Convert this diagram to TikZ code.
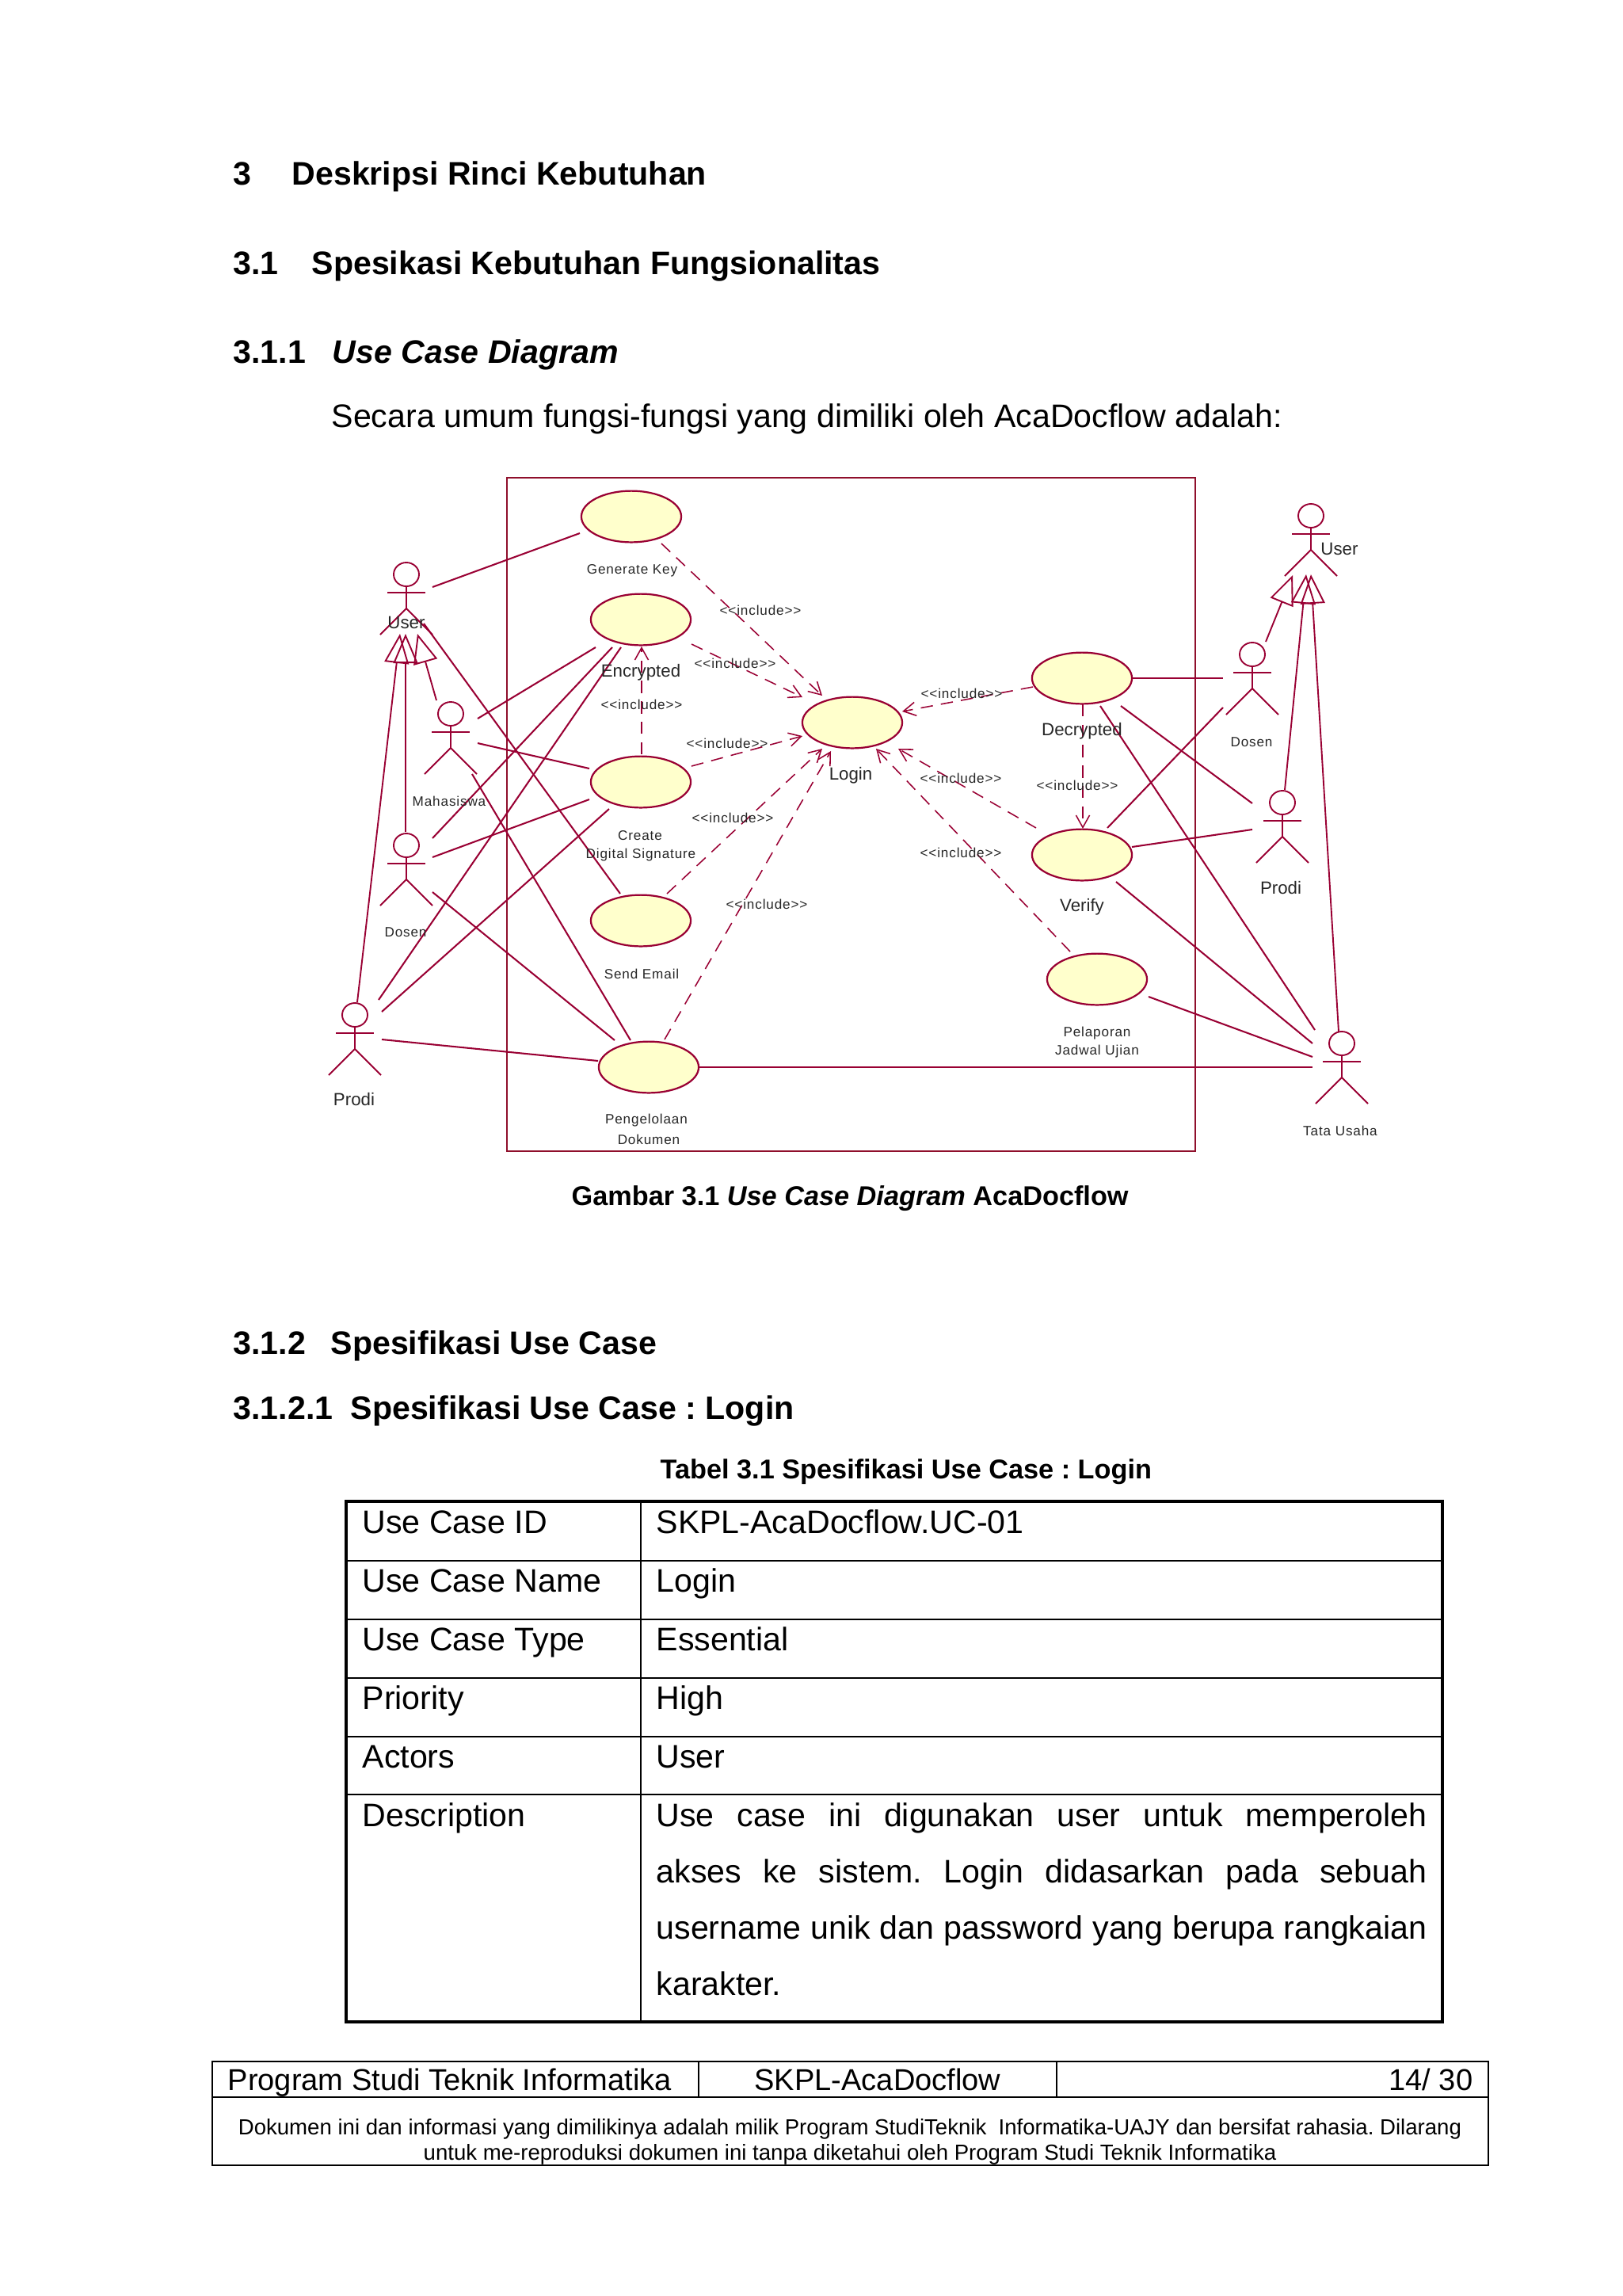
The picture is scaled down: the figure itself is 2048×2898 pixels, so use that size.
\documentclass[tikz,border=0pt]{standalone}
\usepackage{fontspec}
\setmainfont{Liberation Sans}
\newfontfamily\umlspaced[LetterSpace=5]{Liberation Sans}
\usetikzlibrary{positioning,arrows.meta,shapes.geometric}
\definecolor{umlline}{HTML}{990033}
\definecolor{umlbox}{HTML}{8F0F2B}
\definecolor{umlfill}{HTML}{FFFFCC}
\newcommand{\incl}{{<}{<}include{>}{>}}
\frenchspacing
\tikzset{
  usecase/.style={ellipse,draw=umlline,fill=umlfill,line width=.65pt,minimum width=36.8pt,minimum height=18.9pt,inner sep=0},
  assoc/.style={draw=umlline,line width=.6pt},
  incdep/.style={draw=umlline,line width=.45pt,dash pattern=on 4.5pt off 3pt,-{Straight Barb[length=4.5pt,width=5pt]}},
  gendep/.style={draw=umlline,line width=.55pt,-{Triangle[open,length=10.8pt,width=9pt]}},
  smalltxt/.style={inner sep=0,text=black!85,font=\umlspaced\fontsize{5}{6}\selectfont},
  bigtxt/.style={inner sep=0,text=black!85,font=\fontsize{6.5}{8}\selectfont},
  headtxt/.style={inner sep=0,anchor=base west,font=\fontsize{12}{14}\selectfont\bfseries},
  bodytxt/.style={inner sep=0,anchor=base west,font=\fontsize{12}{14}\selectfont},
  captxt/.style={inner sep=0,anchor=base west,font=\fontsize{10}{12}\selectfont\bfseries},
  foottxt/.style={inner sep=0,font=\fontsize{11.1}{13}\selectfont},
  notetxt/.style={inner sep=0,anchor=base,font=\fontsize{8.05}{9}\selectfont},
  stick/.pic={
    \draw[umlline,line width=.55pt] (0,0) ellipse (16 and 15);
    \draw[umlline,line width=.55pt] (0,15) -- (0,43);
    \draw[umlline,line width=.55pt] (-24,23) -- (24,23);
    \draw[umlline,line width=.55pt] (-33,76) -- (0,43) -- (33,76);
  }
}
\begin{document}
\begin{tikzpicture}[x=0.01025cm,y=-0.01025cm]
  \useasboundingbox (0,0) rectangle (2048,2898);

  \node[headtxt] (numA) at (294,233) {3};
  \node[headtxt] (headA) at (368,233) {Deskripsi Rinci Kebutuhan};
  \node[headtxt] (numB) at (294,346) {3.1};
  \node[headtxt] (headB) at (393,346) {Spesikasi Kebutuhan Fungsionalitas};
  \node[headtxt] (numC) at (294,458) {3.1.1};
  \node[headtxt] (headC) at (419,458) {\itshape Use Case Diagram};
  \node[bodytxt] (introTxt) at (418,539) {Secara umum fungsi-fungsi yang dimiliki oleh AcaDocflow adalah:};

  \draw[umlbox,line width=.7pt] (640,603) rectangle (1509,1453);

  \node[usecase] (genkey) at (797,652) {};
  \node[usecase] (encr) at (809,782) {};
  \node[usecase] (crea) at (809,987) {};
  \node[usecase] (send) at (809,1162) {};
  \node[usecase] (peng) at (819,1347) {};
  \node[usecase] (login) at (1076,912) {};
  \node[usecase] (decr) at (1366,856) {};
  \node[usecase] (veri) at (1366,1079) {};
  \node[usecase] (pelap) at (1385,1236) {};

  \coordinate (usrL) at (513,725);
  \coordinate (mhs) at (569,901);
  \coordinate (dosL) at (513,1067);
  \coordinate (proL) at (448,1281);
  \coordinate (usrR) at (1655,651);
  \coordinate (dosR) at (1581,826);
  \coordinate (proR) at (1619,1013);
  \coordinate (tata) at (1694,1317);
  \foreach \who in {usrL,mhs,dosL,proL,usrR,dosR,proR,tata}
    \pic at (\who) {stick};

  \draw[assoc] ([shift={(33,16)}]usrL) -- ([shift={(-65,21)}]genkey.center);
  \draw[assoc] ([shift={(34,6)}]mhs) -- ([shift={(-57,35)}]encr.center);
  \draw[assoc] ([shift={(34,37)}]mhs) -- ([shift={(-65,-17)}]crea.center);
  \draw[assoc] ([shift={(27,76)}]mhs) -- ([shift={(-23,-34)}]peng.center);
  \draw[assoc] ([shift={(22,62)}]usrL) -- ([shift={(-26,-34)}]send.center);
  \draw[assoc] ([shift={(33,-9)}]dosL) -- ([shift={(-36,35)}]encr.center);
  \draw[assoc] ([shift={(33,15)}]dosL) -- ([shift={(-65,22)}]crea.center);
  \draw[assoc] ([shift={(33,59)}]dosL) -- ([shift={(-43,-34)}]peng.center);
  \draw[assoc] ([shift={(30,-19)}]proL) -- ([shift={(-25,35)}]encr.center);
  \draw[assoc] ([shift={(34,-4)}]proL) -- ([shift={(-40,34)}]crea.center);
  \draw[assoc] ([shift={(34,31)}]proL) -- ([shift={(-64,-8)}]peng.center);
  \draw[assoc] ([shift={(62,0)}]peng.center) -- ([shift={(-37,30)}]tata);
  \draw[assoc] ([shift={(63,0)}]decr.center) -- ([shift={(-37,30)}]dosR);
  \draw[assoc] ([shift={(32,-34)}]veri.center) -- ([shift={(-37,67)}]dosR);
  \draw[assoc] ([shift={(63,-10)}]veri.center) -- ([shift={(-38,34)}]proR);
  \draw[assoc] ([shift={(49,35)}]decr.center) -- ([shift={(-38,1)}]proR);
  \draw[assoc] ([shift={(23,35)}]decr.center) -- ([shift={(-34,-17)}]tata);
  \draw[assoc] ([shift={(43,34)}]veri.center) -- ([shift={(-37,0)}]tata);
  \draw[assoc] ([shift={(65,22)}]pelap.center) -- ([shift={(-37,17)}]tata);

  \draw[gendep] ([shift={(3,-16)}]proL) -- ([shift={(-8,75)}]usrL);
  \draw[gendep] ([shift={(-1,-17)}]dosL) -- ([shift={(-1,75)}]usrL);
  \draw[gendep] ([shift={(-18,-17)}]mhs) -- ([shift={(14,75)}]usrL);
  \draw[gendep] ([shift={(17,-16)}]dosR) -- ([shift={(-23,75)}]usrR);
  \draw[gendep] ([shift={(3,-16)}]proR) -- ([shift={(-6,74)}]usrR);
  \draw[gendep] ([shift={(-4,-15)}]tata) -- ([shift={(0,74)}]usrR);

  \draw[incdep] ([shift={(38,34)}]genkey.center) -- ([shift={(-38,-34)}]login.center);
  \draw[incdep] ([shift={(64,31)}]encr.center) -- ([shift={(-63,-32)}]login.center);
  \draw[incdep] ([shift={(1,-35)}]crea.center) -- ([shift={(1,34)}]encr.center);
  \draw[incdep] ([shift={(64,-20)}]crea.center) -- ([shift={(-63,17)}]login.center);
  \draw[incdep] ([shift={(33,-34)}]send.center) -- ([shift={(-38,33)}]login.center);
  \draw[incdep] ([shift={(20,-35)}]peng.center) -- ([shift={(-27,36)}]login.center);
  \draw[incdep] ([shift={(-62,11)}]decr.center) -- ([shift={(63,-14)}]login.center);
  \draw[incdep] ([shift={(1,33)}]decr.center) -- ([shift={(1,-33)}]veri.center);
  \draw[incdep] ([shift={(-58,-34)}]veri.center) -- ([shift={(58,33)}]login.center);
  \draw[incdep] ([shift={(-34,-35)}]pelap.center) -- ([shift={(30,33)}]login.center);

  \node[smalltxt] (lblGen) at (798,720) {Generate Key};
  \node[bigtxt] (lblEnc) at (809,849) {Encrypted};
  \node[smalltxt] (lblCrea) at (808,1055) {Create};
  \node[smalltxt] (lblSig) at (809,1079) {Digital Signature};
  \node[smalltxt] (lblSend) at (810,1229) {Send Email};
  \node[smalltxt] (lblPeng) at (816,1414) {Pengelolaan};
  \node[smalltxt] (lblDok) at (819,1438) {Dokumen};
  \node[bigtxt] (lblLogin) at (1074,979) {Login};
  \node[bigtxt] (lblDec) at (1366,923) {Decrypted};
  \node[bigtxt] (lblVer) at (1366,1145) {Verify};
  \node[smalltxt] (lblPel) at (1385,1304) {Pelaporan};
  \node[smalltxt] (lblJad) at (1385,1327) {Jadwal Ujian};
  \node[bigtxt] (lblUsrL) at (513,786) {User};
  \node[smalltxt] (lblMhs) at (567,1011) {Mahasiswa};
  \node[smalltxt] (lblDosL) at (512,1177) {Dosen};
  \node[bigtxt] (lblProL) at (447,1388) {Prodi};
  \node[bigtxt,fill=white] (lblUsrR) at (1691,693) {User};
  \node[smalltxt] (lblDosR) at (1580,937) {Dosen};
  \node[bigtxt] (lblProR) at (1617,1121) {Prodi};
  \node[smalltxt] (lblTata) at (1692,1427) {Tata Usaha};

  \node[smalltxt] (incGen) at (960,770) {\incl};
  \node[smalltxt] (incEnc) at (928,837) {\incl};
  \node[smalltxt] (incCre) at (810,889) {\incl};
  \node[smalltxt] (incCrL) at (918,938) {\incl};
  \node[smalltxt] (incSnd) at (925,1032) {\incl};
  \node[smalltxt] (incPen) at (968,1141) {\incl};
  \node[smalltxt] (incDec) at (1214,875) {\incl};
  \node[smalltxt] (incDcV) at (1360,991) {\incl};
  \node[smalltxt] (incVer) at (1213,982) {\incl};
  \node[smalltxt] (incPel) at (1213,1076) {\incl};

  \node[captxt] (capFig) at (721,1521) {Gambar 3.1 \textit{Use Case Diagram} AcaDocflow};

  \node[headtxt] (numD) at (294,1709) {3.1.2};
  \node[headtxt] (headD) at (417,1709) {Spesifikasi Use Case};
  \node[headtxt] (numE) at (294,1791) {3.1.2.1};
  \node[headtxt] (headE) at (442,1791) {Spesifikasi Use Case : Login};
  \node[captxt] (capTab) at (833,1866) {Tabel 3.1 Spesifikasi Use Case : Login};

  \draw[line width=1pt] (437,1895) rectangle (1821,2552);
  \draw[line width=.7pt] (809,1895) -- (809,2552);
  \foreach \yy in {1970,2044,2118,2192,2265}
    \draw[line width=.7pt] (437,\yy) -- (1821,\yy);
  \foreach \cola/\colb/\yy [count=\rr] in {Use Case ID/SKPL-AcaDocflow.UC-01/1935,Use Case Name/Login/2009,Use Case Type/Essential/2083,Priority/High/2157,Actors/User/2231,Description/{\makebox[283.8pt][s]{Use case ini digunakan user untuk memperoleh}}/2305}{
    \node[bodytxt] (cellA\rr) at (457,\yy) {\cola};
    \node[bodytxt] (cellB\rr) at (828,\yy) {\colb};
  }
  \node[bodytxt] (descB) at (828,2376) {\makebox[283.8pt][s]{akses ke sistem. Login didasarkan pada sebuah}};
  \node[bodytxt] (descC) at (828,2447) {\makebox[283.8pt][s]{username unik dan password yang berupa rangkaian}};
  \node[bodytxt] (descD) at (828,2518) {karakter.};

  \draw[line width=.7pt] (268,2602) rectangle (1879,2733);
  \draw[line width=.7pt] (268,2647) -- (1879,2647);
  \draw[line width=.4pt] (882,2602) -- (882,2647);
  \draw[line width=.4pt] (1334,2602) -- (1334,2647);
  \node[foottxt,anchor=base west] (footA) at (287,2638) {Program Studi Teknik Informatika};
  \node[foottxt,anchor=base] (footB) at (1108,2638) {SKPL-AcaDocflow};
  \node[foottxt,anchor=base east] (footC) at (1860,2638) {14/ 30};
  \node[notetxt] (noteA) at (1073,2694) {Dokumen ini dan informasi yang dimilikinya adalah milik Program StudiTeknik\ \ Informatika-UAJY dan bersifat rahasia. Dilarang};
  \node[notetxt] (noteB) at (1073,2726) {untuk me-reproduksi dokumen ini tanpa diketahui oleh Program Studi Teknik Informatika};
\end{tikzpicture}
\end{document}
